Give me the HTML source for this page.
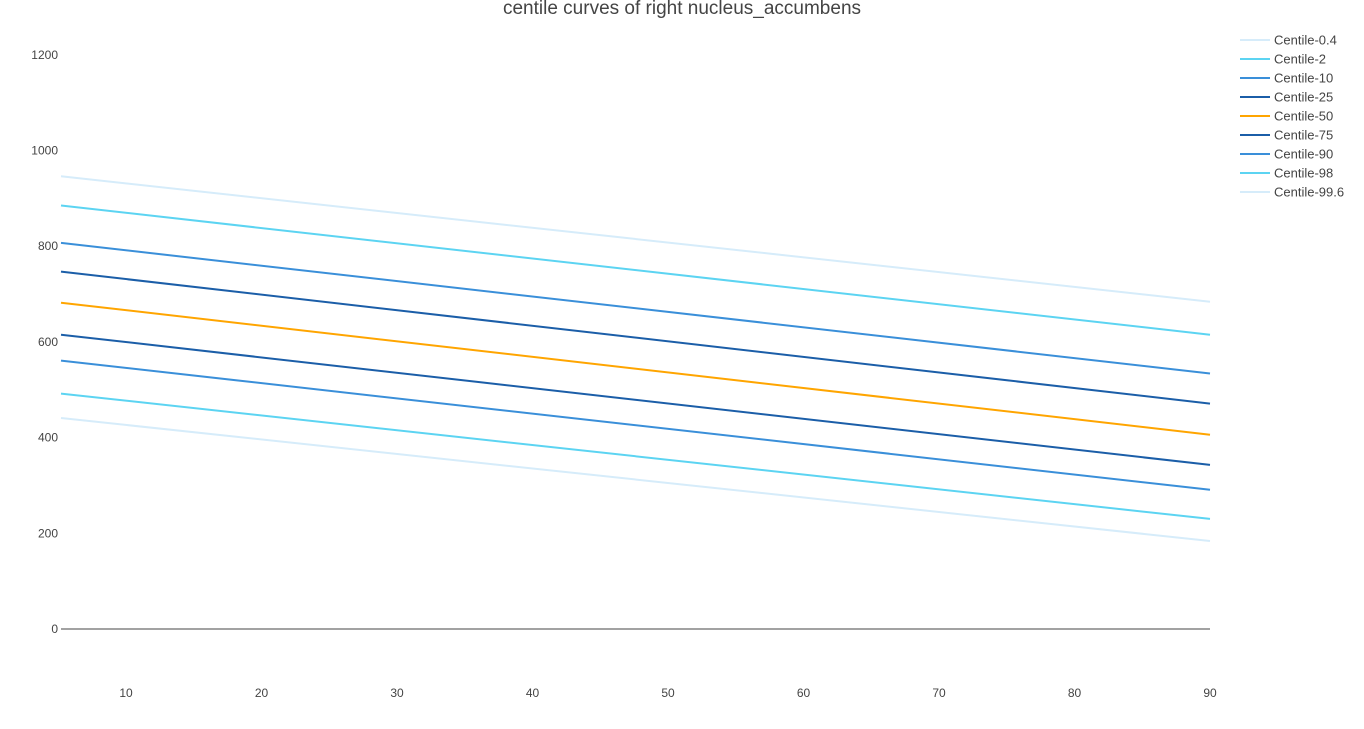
<!DOCTYPE html>
<html><head><meta charset="utf-8"><style>
body{margin:0;background:#fff;font-family:"Liberation Sans",Arial,sans-serif;}
svg text{font-family:"Liberation Sans",Arial,sans-serif;fill:#444;}
</style></head><body>
<svg id="chart" width="1364" height="724" xmlns="http://www.w3.org/2000/svg">
<text x="682" y="14" font-size="19" text-anchor="middle">centile curves of right nucleus_accumbens</text>
<g id="yticks"></g><g id="xticks"></g>
<line x1="61" x2="1210" y1="629" y2="629" stroke="#444" stroke-width="1"/>
<g id="lines"></g><g id="legend"></g>
</svg>
<script>
const ages = [5.2, 90];
const seriesNames = ["Centile-0.4","Centile-2","Centile-10","Centile-25","Centile-50","Centile-75","Centile-90","Centile-98","Centile-99.6"];
const c04 = [441, 184];
const c2 = [492, 230];
const c10 = [561, 291];
const c25 = [615, 343];
const c50 = [682, 406];
const c75 = [747, 471];
const c90 = [807, 534];
const c98 = [885, 615];
const c996 = [946, 684];
const yTicks = [0,200,400,600,800,1000,1200];
const xTicks = [10,20,30,40,50,60,70,80,90];
const colors = ["#d6ecfa","#5cd4f2","#3a8fd9","#1b5ea8","#ffa500","#1b5ea8","#3a8fd9","#5cd4f2","#d6ecfa"];
const allSeries = [c04,c2,c10,c25,c50,c75,c90,c98,c996];
const NS="http://www.w3.org/2000/svg";
const x = v => 61 + (v-5.2)*(1149/(90-5.2));
const y = v => 629 - v*0.4785;
function mk(t,a,p){const e=document.createElementNS(NS,t);for(const k in a)e.setAttribute(k,a[k]);p.appendChild(e);return e;}
const yt=document.getElementById('yticks');
yTicks.forEach(v=>{const t=mk('text',{x:58,y:y(v)+4,'font-size':12,'text-anchor':'end'},yt);t.textContent=v;

});
const xt=document.getElementById('xticks');
xTicks.forEach(v=>{const t=mk('text',{x:x(v),y:697,'font-size':12,'text-anchor':'middle'},xt);t.textContent=v;

});
const lg=document.getElementById('lines');const leg=document.getElementById('legend');
allSeries.forEach((s,i)=>{
 const pts=s.map((v,j)=>x(ages[j]).toFixed(1)+','+y(v).toFixed(1)).join(' ');
 const p=mk('polyline',{points:pts,fill:'none',stroke:colors[i],'stroke-width':2},lg);
 
 
 const gy=40+i*19;
 const g=mk('g',{},leg);
 
 
 mk('line',{x1:1240,x2:1270,y1:gy,y2:gy,stroke:colors[i],'stroke-width':2},g);
 const t=mk('text',{x:1274,y:gy+4.5,'font-size':13},g);t.textContent=seriesNames[i];
});
</script>
</body></html>
